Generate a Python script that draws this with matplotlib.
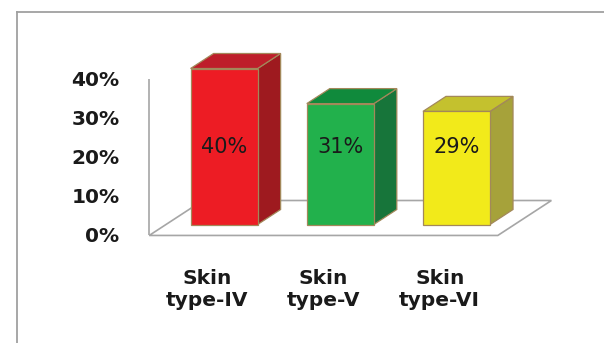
import matplotlib
matplotlib.use("Agg")
import matplotlib.pyplot as plt
from matplotlib.patches import Polygon
from matplotlib.lines import Line2D

# Data
categories = ["Skin\ntype-IV", "Skin\ntype-V", "Skin\ntype-VI"]
values = [40, 31, 29]
tick_values = [0, 10, 20, 30, 40]
tick_labels = ["0%", "10%", "20%", "30%", "40%"]

# Styling
front_colors = ["#ED1C24", "#22B14C", "#F2EA1A"]
side_colors = ["#9E1A1F", "#17753A", "#A6A23A"]
top_colors = ["#BE1E2A", "#108A3C", "#C4C12E"]
edge_color = "#A3885A"
floor_color = "#A6A6A6"
text_color = "#1A1A1A"

W_PX, H_PX, DPI = 604, 343, 100
fig = plt.figure(figsize=(W_PX / DPI, H_PX / DPI), dpi=DPI)
ax = fig.add_axes([0, 0, 1, 1])
ax.set_axis_off()

# Category units horizontally, percent vertically
x0_px, x_step_px = 224.1, 116.2
y0_px, y_step_px = 118.5, 3.9
ax.set_xlim(-x0_px / x_step_px, (W_PX - x0_px) / x_step_px)
ax.set_ylim(-y0_px / y_step_px, (H_PX - y0_px) / y_step_px)

# Oblique depth direction of the 3-D look
DX = 23 / x_step_px
DY = 15 / y_step_px
bar_w = 0.577
d_front, d_back = -0.73, 1.6
x_lo, x_hi = -0.5, 2.5
ymax = max(tick_values)

def shift(p, d):
    return (p[0] + d * DX, p[1] + d * DY)

# Floor
floor = Polygon([shift((x_lo, 0), d_front), shift((x_hi, 0), d_front),
                 shift((x_hi, 0), d_back), shift((x_lo, 0), d_back)],
                closed=True, facecolor="white", edgecolor=floor_color,
                linewidth=1.2, zorder=1)
ax.add_patch(floor)

# Left wall edge (value axis line)
p_bot = shift((x_lo, 0), d_front)
p_top = shift((x_lo, ymax), d_front)
ax.plot([p_bot[0], p_top[0]], [p_bot[1], p_top[1]], color=floor_color,
        linewidth=1.2, zorder=1, solid_capstyle="butt")

# Value axis labels
for v, lab in zip(tick_values, tick_labels):
    px, py = shift((x_lo, v), d_front)
    ax.annotate(lab, (px, py), xytext=(-21.5, -1), textcoords="offset points",
                ha="right", va="center", fontsize=14.5, fontweight="bold",
                color=text_color, family="DejaVu Sans")

# Bars: side, top, front
xs = list(range(len(values)))
for i, (x, v) in enumerate(zip(xs, values)):
    l, r = x - bar_w / 2, x + bar_w / 2
    side = Polygon([(r, 0), shift((r, 0), 1), shift((r, v), 1), (r, v)],
                   closed=True, facecolor=side_colors[i], edgecolor=edge_color,
                   linewidth=0.9, zorder=2 + i)
    top = Polygon([(l, v), shift((l, v), 1), shift((r, v), 1), (r, v)],
                  closed=True, facecolor=top_colors[i], edgecolor=edge_color,
                  linewidth=0.9, zorder=2 + i)
    ax.add_patch(side)
    ax.add_patch(top)

bars = ax.bar(xs, values, width=bar_w, color=front_colors,
              edgecolor=edge_color, linewidth=0.9, zorder=5)

# Value labels inside the bars
for x, v in zip(xs, values):
    ax.text(x, 20, f"{v}%", ha="center", va="center", fontsize=15,
            color=text_color, family="DejaVu Sans", zorder=6)

# Category labels along the front edge of the floor
for x, lab in zip(xs, categories):
    px, py = shift((x, 0), d_front)
    ax.annotate(lab, (px, py), xytext=(0, -39), textcoords="offset points",
                ha="center", va="center", fontsize=14.5, fontweight="bold",
                color=text_color, family="DejaVu Sans", linespacing=1.25)

# Outer chart frame (left and top edges)
fx = 16.5 / W_PX
fy = 1 - 11.5 / H_PX
fig.add_artist(Line2D([fx, fx], [0, fy], transform=fig.transFigure,
                      color="#A0A0A0", linewidth=1.3))
fig.add_artist(Line2D([fx, 1], [fy, fy], transform=fig.transFigure,
                      color="#A0A0A0", linewidth=1.3))

fig.savefig("out.png", dpi=DPI, facecolor="white")
